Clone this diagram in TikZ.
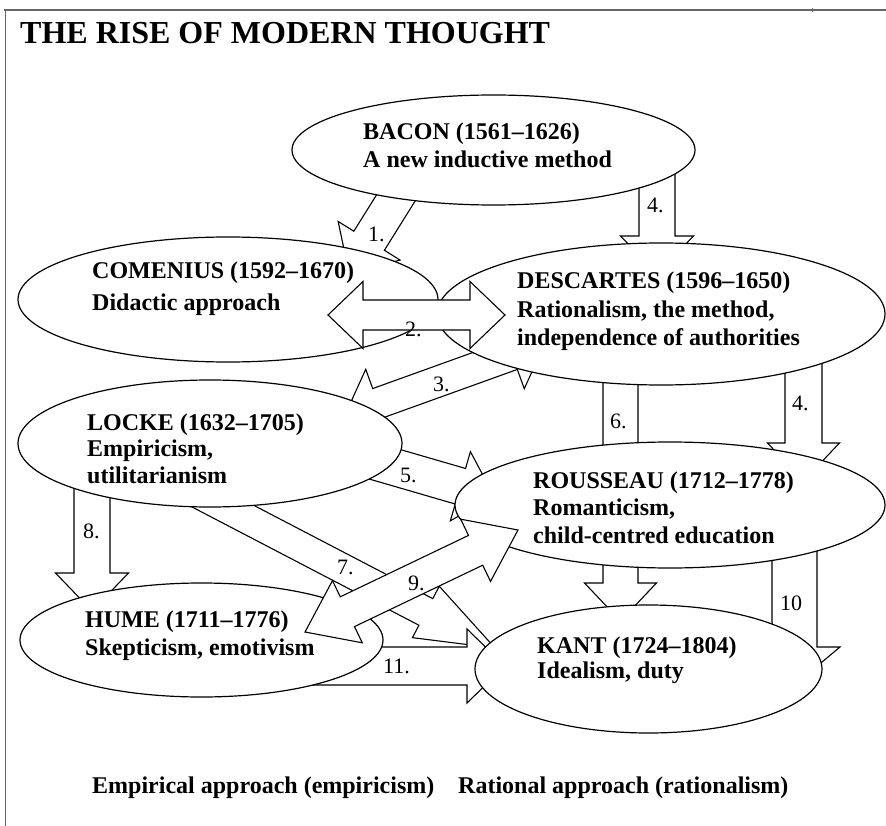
\documentclass[tikz,border=0pt]{standalone}
\usepackage{fontspec}
\setmainfont{Liberation Serif}
\usetikzlibrary{calc,shapes.geometric}

\tikzset{
  oval/.style={draw, ellipse, fill=white, line width=1.2pt, inner sep=0pt},
  arrowbox/.style={draw, fill=white, line width=1.1pt, line join=miter},
  who/.style={font=\fontsize{24}{28}\selectfont\bfseries, anchor=base west, inner sep=0pt},
  num/.style={font=\fontsize{22}{24}\selectfont, anchor=base west, inner sep=0pt},
  frameline/.style={draw=black!60, line width=1.8pt},
}

% single-headed block arrow: [opts]{from}{to}{half shaft}{half head}{head length}
\newcommand{\blockarrow}[6][]{%
  \path ($(#3)!#6!(#2)$) coordinate (ba-h);
  \draw[arrowbox,#1] ($(#2)!#4!90:(#3)$) -- ($(ba-h)!#4!-90:(#2)$)
    -- ($(ba-h)!#5!-90:(#2)$) -- (#3) -- ($(ba-h)!#5!90:(#2)$)
    -- ($(ba-h)!#4!90:(#2)$) -- ($(#2)!#4!-90:(#3)$) -- cycle;
}
% double-headed block arrow
\newcommand{\twowayarrow}[6][]{%
  \path ($(#3)!#6!(#2)$) coordinate (ba-h) ($(#2)!#6!(#3)$) coordinate (ba-g);
  \draw[arrowbox,#1] (#2) -- ($(ba-g)!#5!90:(#3)$) -- ($(ba-g)!#4!90:(#3)$)
    -- ($(ba-h)!#4!-90:(#2)$) -- ($(ba-h)!#5!-90:(#2)$) -- (#3)
    -- ($(ba-h)!#5!90:(#2)$) -- ($(ba-h)!#4!90:(#2)$)
    -- ($(ba-g)!#4!-90:(#3)$) -- ($(ba-g)!#5!-90:(#3)$) -- cycle;
}

\begin{document}
\begin{tikzpicture}[x=1pt,y=-1pt]
\useasboundingbox (0,0) rectangle (886,826);

% page frame
\draw[frameline] (4,10) -- (886,10);
\draw[frameline] (5.5,10) -- (5.5,826);
\draw[black!60, line width=1pt] (812,8) -- (812,12);

% title
\node[font=\fontsize{32}{36}\selectfont\bfseries, anchor=base west, inner sep=0pt] (title) at (20,43.5) {THE RISE OF MODERN THOUGHT};

% arrow end points
\coordinate (a1s) at (422,156);   \coordinate (a1e) at (349,273);
\coordinate (a4s) at (657,150);   \coordinate (a4e) at (657,274);
\coordinate (a3s) at (345,415);   \coordinate (a3e) at (545,343);
\coordinate (a4bs) at (803.5,300); \coordinate (a4be) at (803.5,481);
\coordinate (a6s) at (620.5,300); \coordinate (a6e) at (620.5,621);
\coordinate (a5s) at (370,460);   \coordinate (a5e) at (494,496);
\coordinate (a8s) at (92,440);    \coordinate (a8e) at (92,611);
\coordinate (a7s) at (190,489);   \coordinate (a7e) at (495,648);
\coordinate (a10s) at (794.5,505); \coordinate (a10e) at (794.5,685);
\coordinate (a11s) at (250,666);  \coordinate (a11e) at (505,666);
\coordinate (a2s) at (328,315);   \coordinate (a2e) at (505,315);
\coordinate (a9s) at (305,632);   \coordinate (a9e) at (518,530);

% arrows lying under the ovals
\blockarrow{a1s}{a1e}{18pt}{36.5pt}{38pt}
\blockarrow{a4s}{a4e}{18pt}{36.5pt}{38pt}
\twowayarrow{a3s}{a3e}{15.5pt}{36pt}{35pt}
\blockarrow{a4bs}{a4be}{18.5pt}{36pt}{38pt}
\blockarrow{a6s}{a6e}{17.5pt}{36pt}{38pt}
\blockarrow{a5s}{a5e}{18.5pt}{36pt}{35pt}
\blockarrow{a8s}{a8e}{18pt}{36.5pt}{38pt}
\blockarrow{a7s}{a7e}{15pt}{29pt}{78pt}
\blockarrow{a10s}{a10e}{22.5pt}{45.5pt}{38pt}
\blockarrow{a11s}{a11e}{19pt}{37pt}{38pt}

% the thinkers
\node[oval, minimum width=403pt, minimum height=110pt] (bacon) at (493.5,150) {};
\node[oval, minimum width=420pt, minimum height=125pt] (comenius) at (228,299.5) {};
\node[oval, minimum width=448pt, minimum height=142pt] (descartes) at (661,314) {};
\node[oval, minimum width=384pt, minimum height=127pt] (locke) at (210,443.5) {};
\node[oval, minimum width=430pt, minimum height=126pt] (rousseau) at (670,505) {};
\node[oval, minimum width=363pt, minimum height=114pt] (hume) at (201.5,640) {};
\node[oval, minimum width=347pt, minimum height=128pt] (kant) at (648.5,669) {};

% arrows lying over the ovals
\twowayarrow{a2s}{a2e}{15pt}{33.5pt}{35pt}
\twowayarrow{a9s}{a9e}{16.5pt}{34.5pt}{47pt}

% oval texts
\node[who] (bacon-1) at (363,140) {BACON (1561–1626)};
\node[who] (bacon-2) at (363,168) {A new inductive method};
\node[who] (comenius-1) at (92,279) {COMENIUS (1592–1670)};
\node[who] (comenius-2) at (92,310) {Didactic approach};
\node[who] (descartes-1) at (517,289) {DESCARTES (1596–1650)};
\node[who] (descartes-2) at (517,317) {Rationalism, the method,};
\node[who] (descartes-3) at (517,345) {independence of authorities};
\node[who] (locke-1) at (87,430) {LOCKE (1632–1705)};
\node[who] (locke-2) at (87,456.5) {Empiricism,};
\node[who] (locke-3) at (87,483) {utilitarianism};
\node[who] (rousseau-1) at (533,488) {ROUSSEAU (1712–1778)};
\node[who] (rousseau-2) at (533,515.5) {Romanticism,};
\node[who] (rousseau-3) at (533,543) {child-centred education};
\node[who] (hume-1) at (85,627) {HUME (1711–1776)};
\node[who] (hume-2) at (85,655) {Skepticism, emotivism};
\node[who] (kant-1) at (537,653) {KANT (1724–1804)};
\node[who] (kant-2) at (537,678) {Idealism, duty};

% arrow numbers
\node[num] (n1) at (368,242) {1.};
\node[num] (n2) at (405,337) {2.};
\node[num] (n3) at (433,391) {3.};
\node[num] (n4) at (647,213) {4.};
\node[num] (n4b) at (792,410) {4.};
\node[num] (n5) at (400,482) {5.};
\node[num] (n6) at (610,428) {6.};
\node[num] (n7) at (337,574) {7.};
\node[num] (n8) at (83,538) {8.};
\node[num] (n9) at (408,590) {9.};
\node[num] (n10) at (780,610) {10};
\node[num] (n11) at (383,673) {11.};

% bottom legend
\node[who] (emp) at (92,793) {Empirical approach (empiricism)};
\node[who] (rat) at (458,793) {Rational approach (rationalism)};
\end{tikzpicture}
\end{document}
